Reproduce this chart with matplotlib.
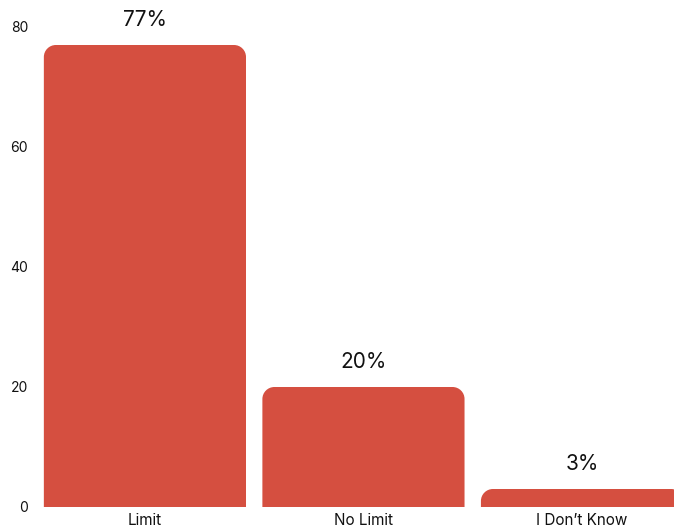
import matplotlib
matplotlib.use("Agg")
import matplotlib.pyplot as plt
from matplotlib.path import Path
from matplotlib.patches import PathPatch

categories = ["Limit", "No Limit", "I Don\u2019t Know"]
values = [77, 20, 3]
labels = ["77%", "20%", "3%"]
yticks = [0, 20, 40, 60, 80]

color = "#D54F40"
plt.rcParams['font.family'] = ['Inter', 'DejaVu Sans']

W, H = 674, 529
fig = plt.figure(figsize=(W/100, H/100), dpi=100)
left, right, bottom, top = 35, 674, 507, 27
ax = fig.add_axes([left/W, (H-bottom)/H, (right-left)/W, (bottom-top)/H])

x = list(range(len(categories)))
bars = ax.bar(x, values, width=0.925, color=color, linewidth=0)
ax.set_xlim(-0.503, 2.421)
ax.set_ylim(0, 80)

# pixel scales for rounded corners
px_x = (right-left) / (2.421 + 0.503)
px_y = (bottom-top) / 80.0
r = 12
for i, b in enumerate(bars):
    x0, w, h = b.get_x(), b.get_width(), b.get_height()
    rx, ry = r/px_x, r/px_y
    ry = min(ry, h)
    k = 0.5523
    verts = [(x0, 0), (x0, h-ry),
             (x0, h-ry+k*ry), (x0+rx-k*rx, h), (x0+rx, h),
             (x0+w-rx, h),
             (x0+w-rx+k*rx, h), (x0+w, h-ry+k*ry), (x0+w, h-ry),
             (x0+w, 0), (x0, 0)]
    codes = [Path.MOVETO, Path.LINETO,
             Path.CURVE4, Path.CURVE4, Path.CURVE4,
             Path.LINETO,
             Path.CURVE4, Path.CURVE4, Path.CURVE4,
             Path.LINETO, Path.CLOSEPOLY]
    b.set_visible(False)
    ax.add_patch(PathPatch(Path(verts, codes), facecolor=color, edgecolor='none'))
    ax.annotate(labels[i], (x0 + w/2, h), xytext=(0, 11),
                textcoords='offset points', ha='center', va='bottom',
                fontsize=15, color='#111111', annotation_clip=False)

ax.set_xticks(x)
ax.set_xticklabels(categories, fontsize=11, color='#111111')
ax.set_yticks(yticks)
ax.set_yticklabels([str(v) for v in yticks], fontsize=10, color='#111111')
ax.tick_params(axis='both', length=0)
ax.tick_params(axis='y', pad=5)
ax.tick_params(axis='x', pad=4)
for s in ax.spines.values():
    s.set_visible(False)

fig.savefig("out.png", dpi=100)
